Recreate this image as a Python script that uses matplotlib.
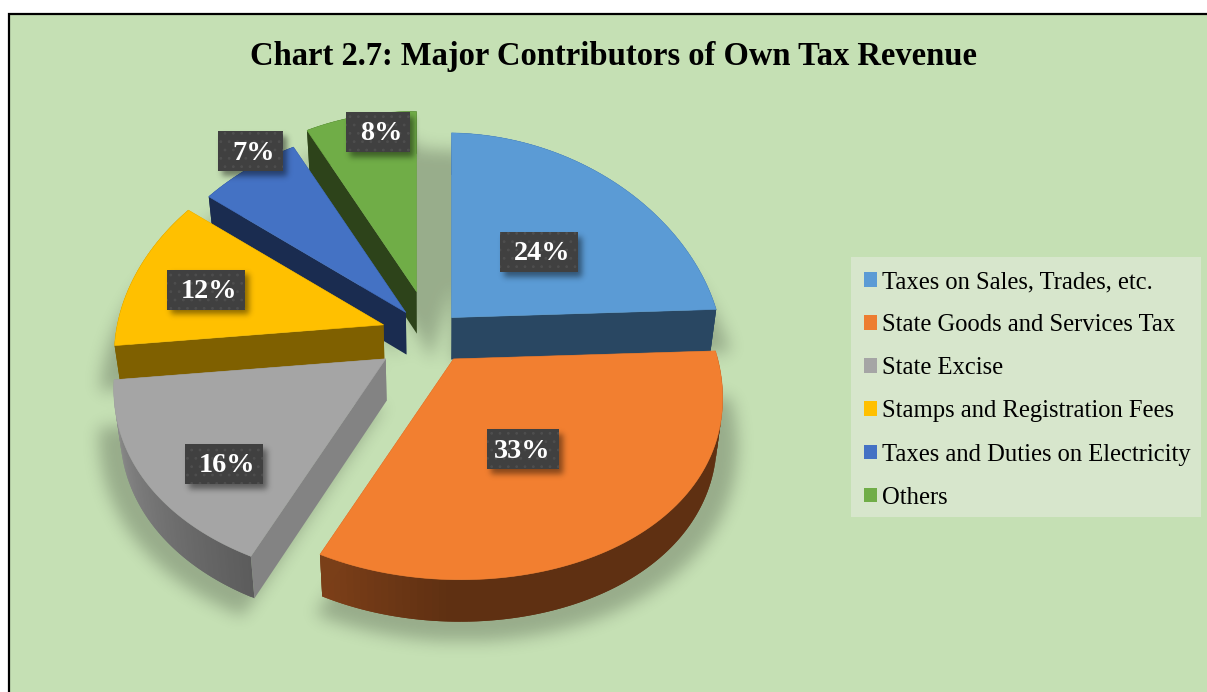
import numpy as np
import matplotlib
matplotlib.use("Agg")
import matplotlib.pyplot as plt
from matplotlib.patches import Polygon, Rectangle, Patch
from matplotlib.path import Path
from matplotlib.colors import to_rgb

plt.rcParams['font.family'] = ['Liberation Serif', 'DejaVu Serif']
plt.rcParams['hatch.linewidth'] = 0.8

# --- Data ---
categories = ["Taxes on Sales, Trades, etc.", "State Goods and Services Tax", "State Excise",
              "Stamps and Registration Fees", "Taxes and Duties on Electricity", "Others"]
shares = [24, 33, 16, 12, 7, 8]

# --- Styles ---
top_colors = ["#5b9bd5", "#f27f30", "#a5a5a5", "#ffc000", "#4472c4", "#70ad47"]
legend_colors = ["#5b9bd5", "#ed7d31", "#a5a5a5", "#ffc000", "#4472c4", "#70ad47"]
cut_colors = ["#294762", "#7a3f18", "#838383", "#7f6000", "#1a2c50", "#2d431a"]
wall_from = ["#294762", "#5f3012", "#5c5c5c", "#7f6000", "#1a2c50", "#2d431a"]
wall_to = ["#294762", "#7e4019", "#929292", "#7f6000", "#1a2c50", "#2d431a"]
wall_range = [(0, 360), (180, 205), (205, 262), (0, 360), (0, 360), (0, 360)]
explode = [30, 40, 56, 49, 38, 58]
radius_scale = [1, 0.99, 1, 0.99, 1, 0.975]
draw_order = [5, 4, 3, 2, 0, 1]
label_pos = [(539, 252), (523, 449), (224, 464), (206, 289.5), (250.5, 151), (378, 132)]
label_width = [78, 72, 78, 78, 65, 64]
label_text_dx = [3, -1, 3, 3, 3, 3]
LABEL_HEIGHT = 40

W, H = 1207, 692
CX, CY = 431, 334
R, A = 268, 202
PX, PY = 0.17, 0.094
TILT = 0.017
DEPTH = 42
BOTTOM_SCALE = 0.98


def project(u, v):
    # offset from a slice apex, front of the pie is drawn larger than the back
    dx = R * u / (1 + PX * v)
    dy = -A * v / (1 + PY * v) + TILT * dx
    return dx, dy


def to_bottom(x, y):
    return CX + (x - CX) * BOTTOM_SCALE, y + DEPTH


def blur(mask, sigma):
    size = int(sigma * 3)
    k = np.exp(-0.5 * (np.arange(-size, size + 1) / sigma) ** 2)
    k /= k.sum()
    mask = np.apply_along_axis(lambda c: np.convolve(c, k, mode="same"), 0, mask)
    return np.apply_along_axis(lambda c: np.convolve(c, k, mode="same"), 1, mask)


def shadow_image(ax, mask, alpha, z):
    rgba = np.zeros((H, W, 4))
    rgba[..., 3] = mask * alpha
    ax.imshow(rgba, extent=(0, W, H, 0), zorder=z, aspect="auto", interpolation="bilinear")


def mix(c0, c1, t):
    c0, c1 = np.array(to_rgb(c0)), np.array(to_rgb(c1))
    return tuple(c0 + (c1 - c0) * t)


fig = plt.figure(figsize=(W / 100, H / 100), dpi=100, facecolor="white")
ax = fig.add_axes([0, 0, 1, 1])

ax.add_patch(Rectangle((9, 14), W + 20, H + 20, facecolor="#c5e0b4", edgecolor="black", linewidth=1.6, zorder=0))

# --- Slice geometry from the shares ---
edges = np.cumsum([0] + shares) / sum(shares) * 360
slices = []
for i in range(len(shares)):
    t0, t1 = edges[i], edges[i + 1]
    mid = np.radians((t0 + t1) / 2)
    apex = (CX + explode[i] * np.sin(mid), CY - explode[i] * A / R * np.cos(mid))
    th = np.linspace(t0, t1, 90)
    dx, dy = project(np.sin(np.radians(th)), np.cos(np.radians(th)))
    slices.append(dict(th=th, xs=apex[0] + dx * radius_scale[i], ys=apex[1] + dy * radius_scale[i], apex=apex))

# --- Soft shadow under the whole pie ---
gx, gy = np.meshgrid(np.arange(W) + 0.5, np.arange(H) + 0.5)
grid = np.column_stack([gx.ravel(), gy.ravel()])
mask = np.zeros((H, W))
for s in slices:
    bx, by = to_bottom(np.r_[s["apex"][0], s["xs"]], np.r_[s["apex"][1], s["ys"]])
    sx = 420 + (bx - 420) * 1.07
    sy = 340 + (by - 340) * 1.07
    inside = Path(np.column_stack([sx, sy])).contains_points(grid).reshape(H, W)
    mask = np.maximum(mask, inside.astype(float))
# the shadow also fills the gap at the top between the last and the first slice
gap_th = np.radians(np.linspace(335, 375, 40))
gap_dx, gap_dy = project(np.sin(gap_th), np.cos(gap_th))
gap = np.column_stack([np.r_[CX, CX + gap_dx], np.r_[CY + 26, CY + gap_dy]])
inside = Path(gap).contains_points(grid).reshape(H, W)
mask = np.maximum(mask, inside.astype(float))
shadow_image(ax, blur(mask, 8), 0.23, 1)

# --- Slices, back to front ---
z = 2
for i in draw_order:
    s = slices[i]
    xs, ys, th = s["xs"], s["ys"], s["th"]
    apex = s["apex"]
    bxs, bys = to_bottom(xs, ys)
    bapex = to_bottom(*apex)
    # outer wall as thin overlapping strips so the shading can change along the arc
    lo, hi = wall_range[i]
    for j in range(len(th) - 1):
        k = min(j + 2, len(th) - 1)
        t = np.clip((th[j] - lo) / (hi - lo), 0, 1)
        ax.add_patch(Polygon([(xs[j], ys[j]), (xs[k], ys[k]), (bxs[k], bys[k]), (bxs[j], bys[j])],
                             facecolor=mix(wall_from[i], wall_to[i], t), edgecolor="none", zorder=z))
    # the two cut faces
    for k in (0, -1):
        ax.add_patch(Polygon([apex, (xs[k], ys[k]), (bxs[k], bys[k]), bapex],
                             facecolor=cut_colors[i], edgecolor="none", zorder=z + 0.1))
    # top face
    ax.add_patch(Polygon(np.column_stack([np.r_[apex[0], xs], np.r_[apex[1], ys]]),
                         facecolor=top_colors[i], edgecolor=top_colors[i], linewidth=0.4, zorder=z + 0.2))
    z += 1

# --- Labels ---
mask = np.zeros((H, W))
for i, v in enumerate(shares):
    lx, ly = label_pos[i]
    x0, y0 = lx - label_width[i] / 2, ly - LABEL_HEIGHT / 2
    ax.add_patch(Rectangle((x0, y0), label_width[i], LABEL_HEIGHT, facecolor="#404040", edgecolor="#4e4e4e",
                           hatch="..", linewidth=0, zorder=21))
    ax.text(lx + label_text_dx[i], ly + 2, f"{v}%", color="white", fontsize=20.3, fontweight="bold",
            ha="center", va="center", zorder=22)
    mask[int(y0 + 5):int(y0 + LABEL_HEIGHT + 5), int(x0 + 4):int(x0 + label_width[i] + 4)] = 1
shadow_image(ax, blur(mask, 3), 0.45, 20)

ax.text(613, 57, "Chart 2.7: Major Contributors of Own Tax Revenue", fontsize=23.5, fontweight="bold",
        ha="center", va="center", color="black", zorder=22)

# --- Legend ---
ax.add_patch(Rectangle((851, 257), 350, 260, facecolor="#d7e6cc", edgecolor="none", zorder=22))
handles = [Patch(facecolor=c, edgecolor="none", label=n) for c, n in zip(legend_colors, categories)]
leg = ax.legend(handles=handles, loc="upper left", bbox_to_anchor=(851, 258), bbox_transform=ax.transData,
                borderaxespad=0, fontsize=17.7, frameon=False, handlelength=0.54, handleheight=0.54,
                handletextpad=0.2, labelspacing=0.86, borderpad=0.53)
leg.set_zorder(23)

ax.set_xlim(0, W)
ax.set_ylim(H, 0)
ax.axis("off")

fig.savefig("out.png", dpi=100)
